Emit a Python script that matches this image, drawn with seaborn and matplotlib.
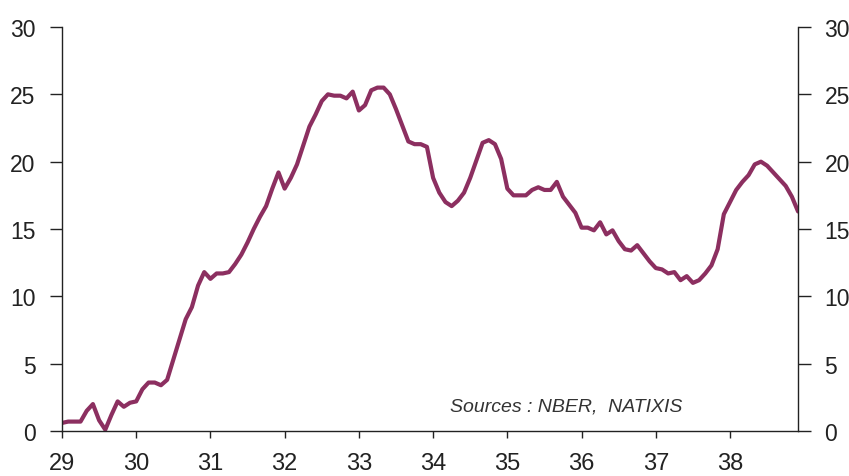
import numpy as np
import pandas as pd
import matplotlib
matplotlib.use("Agg")
import matplotlib.pyplot as plt
import seaborn as sns

# Monthly values, Jan 1929 - Dec 1938
years = list(range(29, 39))
values_29 = [0.6, 0.7, 0.7, 0.7, 1.5, 2.0, 0.8, 0.1, 1.2, 2.2, 1.8, 2.1]
values_30 = [2.2, 3.1, 3.6, 3.6, 3.4, 3.8, 5.3, 6.8, 8.3, 9.2, 10.8, 11.8]
values_31 = [11.3, 11.7, 11.7, 11.8, 12.4, 13.1, 14.0, 15.0, 15.9, 16.7, 18.0, 19.2]
values_32 = [18.0, 18.8, 19.8, 21.2, 22.6, 23.5, 24.5, 25.0, 24.9, 24.9, 24.7, 25.2]
values_33 = [23.8, 24.2, 25.3, 25.5, 25.5, 25.0, 23.9, 22.7, 21.5, 21.3, 21.3, 21.1]
values_34 = [18.8, 17.7, 17.0, 16.7, 17.1, 17.7, 18.8, 20.1, 21.4, 21.6, 21.3, 20.2]
values_35 = [18.0, 17.5, 17.5, 17.5, 17.9, 18.1, 17.9, 17.9, 18.5, 17.4, 16.8, 16.2]
values_36 = [15.1, 15.1, 14.9, 15.5, 14.6, 14.9, 14.1, 13.5, 13.4, 13.8, 13.2, 12.6]
values_37 = [12.1, 12.0, 11.7, 11.8, 11.2, 11.5, 11.0, 11.2, 11.7, 12.3, 13.5, 16.1]
values_38 = [17.0, 17.9, 18.5, 19.0, 19.8, 20.0, 19.7, 19.2, 18.7, 18.2, 17.4, 16.3]

yearly = [values_29, values_30, values_31, values_32, values_33,
          values_34, values_35, values_36, values_37, values_38]

# Build a long table: one row per month, x as fractional year
rows = []
for yr, vals in zip(years, yearly):
    for m, v in enumerate(vals):
        rows.append({"date": yr + m / 12, "value": v})
df = pd.DataFrame(rows)

y_ticks = [0, 5, 10, 15, 20, 25, 30]
source_text = "Sources : NBER,  NATIXIS"

sns.set_style("white")
plt.rcParams["font.family"] = ["Liberation Sans", "DejaVu Sans"]

fig = plt.figure(figsize=(8.49, 4.77), dpi=100)
ax = fig.add_axes([0.073, 0.0943, 0.867, 0.8470])

sns.lineplot(data=df, x="date", y="value", ax=ax, color="#8C2F60", linewidth=3.0)

ax.set_xlim(29, df["date"].max())
ax.set_ylim(0, 30)
ax.set_xticks(years)
ax.set_xticklabels([str(y) for y in years])
ax.set_yticks(y_ticks)
ax.set_xlabel("")
ax.set_ylabel("")

# Axis frame: left, bottom and right, no top
for side in ["left", "bottom", "right"]:
    ax.spines[side].set_visible(True)
    ax.spines[side].set_color("#222222")
    ax.spines[side].set_linewidth(1.0)
ax.spines["top"].set_visible(False)

ax.tick_params(axis="y", which="both", left=True, right=True, labelleft=True,
               labelright=True, direction="out", length=9, width=1.0,
               color="#222222", labelsize=16.5, pad=10, labelcolor="#222222")
ax.tick_params(axis="x", bottom=True, direction="out", length=5, width=1.0,
               color="#222222", labelsize=17, pad=10, labelcolor="#222222")

ax.text(34.23, 1.85, source_text, fontsize=14, fontstyle="italic",
        color="#333333", ha="left", va="center")

fig.savefig("out.png", dpi=100)
